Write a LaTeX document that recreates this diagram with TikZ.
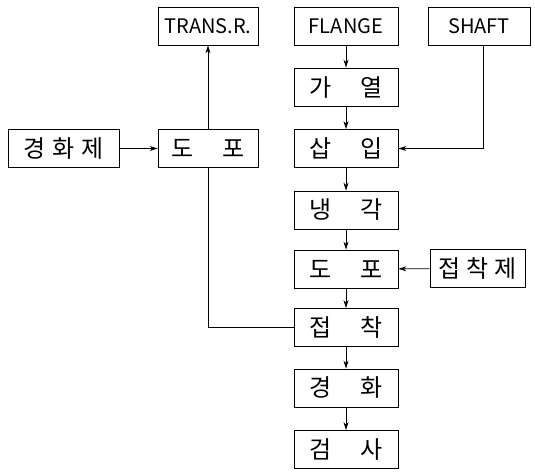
\documentclass[tikz,border=0pt]{standalone}
\usepackage{fontspec}
\setmainfont{Noto Sans CJK KR}
\usetikzlibrary{arrows.meta}

\begin{document}
\begin{tikzpicture}[x=1pt,y=-1pt,
		doboz/.style={draw,line width=0.8pt,minimum width=104pt,minimum height=38pt,inner sep=0pt,font=\fontsize{20}{22}\selectfont},
		hdoboz/.style={doboz,font=\fontsize{24}{26}\selectfont},
		nyil/.style={line width=0.8pt,-{Stealth[length=8pt,width=5pt]}},
		vonal/.style={line width=0.8pt}]
	\useasboundingbox (0,0) rectangle (535,471);
	
	% felso sor
	\node[doboz,minimum width=100pt] (transr) at (208,26) {TRANS.R.};
	\node[doboz] (flange) at (346,26) {FLANGE};
	\node[doboz,minimum width=102pt] (shaft) at (479,26) {SHAFT};
	
	% fo oszlop
	\node[hdoboz] (gayeol) at (346,87) {가\hspace{1.2em}열};
	\node[hdoboz] (sabip) at (346,148.5) {삽\hspace{1.2em}입};
	\node[hdoboz] (naenggak) at (346,210) {냉\hspace{1.2em}각};
	\node[hdoboz] (dopob) at (346,269) {도\hspace{1.2em}포};
	\node[hdoboz] (jeopchak) at (346,327.5) {접\hspace{1.2em}착};
	\node[hdoboz] (gyeonghwa) at (346,388) {경\hspace{1.2em}화};
	\node[hdoboz] (geomsa) at (346,449.5) {검\hspace{1.2em}사};
	
	% bal oldal
	\node[hdoboz,minimum width=111pt] (gyeonghwaje) at (63.5,148.5) {경\hspace{0.3em}화\hspace{0.3em}제};
	\node[hdoboz,minimum width=100pt] (dopoa) at (208,148.5) {도\hspace{1.2em}포};
	
	% jobb oldal
	\node[hdoboz,minimum width=95pt] (jeopchakje) at (477.5,268.5) {접\hspace{0.25em}착\hspace{0.25em}제};
	
	% nyilak
	\draw[nyil] (flange) -- (gayeol);
	\draw[nyil] (gayeol) -- (sabip);
	\draw[nyil] (sabip) -- (naenggak);
	\draw[nyil] (naenggak) -- (dopob);
	\draw[nyil] (dopob) -- (jeopchak);
	\draw[nyil] (jeopchak) -- (gyeonghwa);
	\draw[nyil] (gyeonghwa) -- (geomsa);
	\draw[nyil] ([xshift=4pt]shaft.south) |- (sabip.east);
	\draw[nyil] (jeopchakje) -- (dopob);
	\draw[nyil] (gyeonghwaje) -- (dopoa);
	\draw[nyil] (dopoa) -- (transr);
	
	% visszavezetes
	\draw[vonal] (jeopchak.west) -| (dopoa.south);
	
\end{tikzpicture}
\end{document}
